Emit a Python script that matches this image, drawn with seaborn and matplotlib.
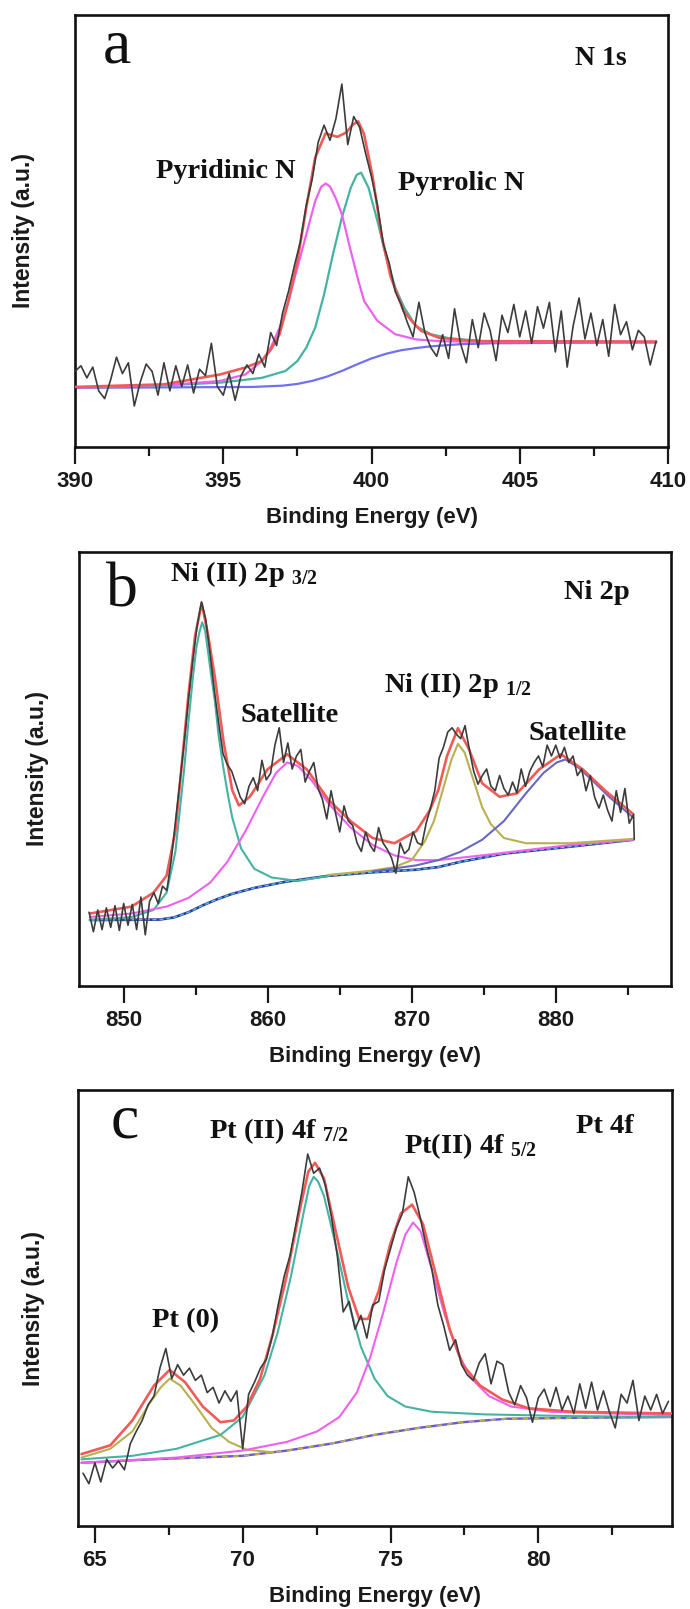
import numpy as np
import matplotlib
matplotlib.use("Agg")
import matplotlib.pyplot as plt
import seaborn as sns
from matplotlib.ticker import MultipleLocator

# ---------------- Panel a : N 1s ----------------
n1s_start, n1s_step = 390.0, 0.2
n1s_counts = [17.5, 18.8, 16.0, 18.5, 13.0, 11.2, 15.5, 20.8, 17.0, 19.5,
              9.5, 15.0, 19.2, 17.5, 12.0, 19.5, 13.0, 18.8, 14.0, 19.0,
              12.5, 18.0, 16.5, 24.0, 14.0, 12.0, 17.0, 10.8, 16.5, 19.0,
              17.0, 21.5, 18.5, 26.5, 23.5, 31.0, 36.0, 42.0, 47.5, 56.0,
              62.0, 70.5, 74.5, 71.0, 76.0, 84.0, 70.0, 76.5, 74.0, 68.0,
              62.5, 56.0, 47.0, 42.5, 36.0, 33.0, 29.0, 25.5, 33.5, 26.5,
              23.0, 21.0, 26.0, 20.5, 32.0, 24.0, 19.5, 29.5, 23.0, 31.0,
              27.0, 20.0, 30.5, 26.5, 33.0, 25.5, 31.5, 24.0, 32.5, 27.5,
              33.5, 22.0, 31.5, 18.5, 28.0, 34.5, 25.0, 31.0, 23.5, 29.5,
              21.0, 33.0, 26.0, 29.0, 22.5, 27.0, 25.5, 19.0, 24.5]

n1s_bg_energy = [390, 396, 397, 397.5, 398, 398.5, 399, 399.5, 400, 400.5, 401,
                 401.5, 402, 403, 404, 406, 409.6]
n1s_bg = [13.7, 13.9, 14.2, 14.6, 15.3, 16.3, 17.6, 19.1, 20.5, 21.6, 22.4,
          22.9, 23.3, 23.8, 24.0, 24.1, 24.2]

n1s_pyridinic_energy = [390, 393.4, 394.9, 395.75, 396.3, 396.6, 396.9, 397.2, 397.5,
                        397.8, 398.1, 398.3, 398.45, 398.6, 398.8, 399.0, 399.3,
                        399.53, 399.75, 400.2, 400.8, 401.5, 402.3, 404, 409.6]
n1s_pyridinic = [13.7, 14.5, 15.3, 16.8, 19.9, 23.0, 27.6, 33.8, 41.5, 49.2, 56.9,
                 60.2, 61.0, 60.3, 57.5, 53.9, 45.4, 39.2, 33.8, 29.2, 26.1, 24.9,
                 24.5, 24.3, 24.2]

n1s_pyrrolic_energy = [390, 393.4, 394.9, 396.3, 397.1, 397.5, 397.8, 398.1, 398.4,
                       398.7, 399.0, 399.3, 399.5, 399.65, 399.9, 400.2, 400.5,
                       400.8, 401.1, 401.5, 402.0, 402.6, 403.7, 409.6]
n1s_pyrrolic = [13.7, 14.4, 14.9, 16.0, 17.6, 19.9, 23.0, 27.6, 35.3, 44.6, 53.1,
                60.0, 63.0, 63.5, 60.0, 52.3, 43.8, 36.9, 32.3, 28.0, 26.1, 25.2,
                24.5, 24.3]

n1s_envelope_energy = [390, 393, 394.9, 395.75, 396.3, 396.6, 396.9, 397.2, 397.5,
                       397.8, 398.1, 398.45, 398.85, 399.15, 399.35, 399.55, 399.75,
                       400.04, 400.34, 400.64, 401.08, 401.4, 401.67, 402.27, 403,
                       403.75, 409.6]
n1s_envelope = [13.9, 14.5, 16.8, 18.4, 19.9, 22.5, 26.1, 33.8, 43.0, 55.4, 67.0,
                72.6, 71.8, 72.8, 74.5, 75.4, 72.4, 62.5, 49.0, 39.5, 31.5, 28.8,
                26.9, 25.3, 24.8, 24.5, 24.4]

# ---------------- Panel b : Ni 2p ----------------
ni_start, ni_step, ni_end_energy = 847.6, 0.3, 885.45
ni_counts = [17.0, 12.5, 17.5, 13.0, 18.0, 13.5, 18.5, 12.8, 19.0, 14.0,
             18.8, 13.0, 20.5, 11.8, 19.5, 21.5, 19.0, 23.0, 22.0, 29.0,
             38.0, 47.0, 56.0, 66.0, 75.0, 83.0, 88.5, 84.5, 76.5, 68.0,
             60.5, 53.5, 51.0, 49.5, 46.5, 43.5, 42.0, 46.0, 48.0, 45.0,
             52.0, 47.5, 49.0, 55.5, 59.5, 51.5, 56.0, 50.0, 53.0, 54.5,
             47.0, 49.5, 51.5, 45.5, 43.0, 38.5, 45.0, 40.0, 35.5, 41.5,
             38.0, 37.0, 33.0, 31.0, 35.5, 32.5, 31.0, 36.5, 33.0, 31.5,
             29.5, 26.0, 33.0, 30.5, 31.5, 35.5, 33.0, 32.5, 37.5, 41.0,
             45.0, 52.5, 55.0, 58.5, 59.5, 58.0, 57.0, 60.0, 54.5, 49.5,
             46.5, 48.5, 50.0, 46.0, 45.0, 48.5, 45.5, 44.0, 47.0, 44.5,
             50.0, 46.0, 49.5, 51.5, 53.0, 50.5, 55.5, 53.0, 55.5, 52.5,
             55.0, 51.5, 53.0, 48.5, 50.0, 45.0, 48.5, 43.5, 41.0, 44.0,
             40.5, 38.0, 45.0, 40.0, 45.5, 37.5, 39.5,
             33.8]

ni_bg_energy = [847.66, 852.5, 853.5, 854.5, 855.5, 856.5, 857.5, 859.07, 861.2,
                864.24, 867.28, 870.3, 871.84, 873.36, 876.4, 881.0, 885.38]
ni_bg = [15.2, 15.3, 15.8, 17.0, 18.6, 20.0, 21.2, 22.6, 24.0, 25.4, 26.2, 26.8,
         27.4, 28.6, 30.5, 32.1, 33.7]

ni_main_energy = [847.66, 850.55, 852.07, 852.98, 853.59, 853.9, 854.2, 854.5, 854.81,
                  855.05, 855.26, 855.45, 855.65, 855.87, 856.1, 856.33, 856.6,
                  856.94, 857.24, 857.54, 858.15, 859.07, 860.28, 862.1, 864.24]
ni_main = [15.2, 15.9, 17.5, 21.5, 30.9, 40.5, 49.9, 61.0, 71.2, 78.0, 81.5, 83.8,
           82.0, 76.7, 71.0, 65.7, 57.5, 49.9, 44.0, 38.8, 31.7, 27.0, 25.0, 24.2,
           25.4]

ni_sat1_energy = [847.66, 850.55, 852.98, 854.5, 856.0, 857.2, 858.46, 859.67, 860.58,
                  861.35, 862.1, 863.02, 864.24, 865.76, 867.28, 868.8, 870.32,
                  871.84, 874.89, 877.93, 881.0, 885.38]
ni_sat1 = [15.9, 16.7, 18.3, 20.3, 23.8, 28.6, 35.7, 43.6, 49.1, 51.5, 50.7, 47.5,
           42.0, 36.5, 32.5, 30.1, 29.0, 29.0, 30.1, 31.3, 32.5, 33.7]

ni_2p12_energy = [864.24, 867.28, 868.8, 870.0, 870.9, 871.54, 872.15, 872.76, 873.21,
                  873.67, 874.28, 874.89, 875.49, 876.4, 877.93, 881.0, 885.38]
ni_2p12 = [25.6, 26.6, 27.4, 29.0, 33.3, 38.0, 45.1, 52.2, 55.8, 53.8, 47.5, 41.2,
           37.3, 34.1, 32.9, 32.9, 33.9]

ni_sat2_energy = [867.28, 870.32, 871.84, 873.36, 874.89, 876.4, 877.93, 879.15,
                  880.06, 880.67, 881.58, 882.5, 883.7, 885.38]
ni_sat2 = [26.4, 27.8, 29.0, 30.9, 33.7, 38.0, 44.4, 49.1, 51.5, 52.2, 50.3, 47.5,
           43.6, 38.8]

ni_envelope_energy = [847.66, 850.55, 852.07, 852.98, 853.59, 854.05, 854.5, 854.96,
                      855.42, 855.87, 856.33, 856.94, 857.54, 858.0, 858.76, 859.98,
                      861.35, 862.72, 864.24, 865.76, 867.28, 868.8, 870.32, 871.24,
                      871.84, 872.45, 873.21, 873.97, 874.89, 876.1, 877.32, 878.84,
                      880.36, 881.88, 883.4, 885.38]
ni_envelope = [16.7, 18.3, 21.5, 25.4, 35.7, 51.5, 67.2, 80.7, 88.2, 80.7, 71.2,
               56.2, 45.1, 41.6, 43.6, 49.9, 53.4, 49.9, 42.8, 38.0, 34.1, 32.9,
               35.7, 40.4, 45.1, 53.0, 59.4, 54.6, 46.7, 43.6, 44.4, 49.9, 53.4,
               49.9, 45.1, 39.6]

# ---------------- Panel c : Pt 4f ----------------
pt_start, pt_step = 64.6, 0.2
pt_counts = [12.1, 9.7, 14.5, 10.1, 15.3, 13.3, 14.9, 12.9, 18.9, 21.7,
             24.2, 27.8, 29.8, 36.2, 40.7, 33.8, 37.0, 34.6, 36.2, 33.4,
             34.6, 30.6, 31.8, 28.2, 31.0, 28.6, 31.0, 17.7, 30.2, 33.0,
             36.2, 38.2, 43.5, 50.7, 57.2, 62.0, 69.2, 76.5, 85.3, 80.9,
             82.1, 78.1, 70.9, 62.0, 49.1, 51.5, 45.1, 48.3, 43.1, 50.7,
             51.5, 58.8, 63.6, 68.4, 71.7, 80.1, 76.5, 70.9, 64.4, 58.8,
             50.7, 45.9, 40.3, 42.7, 37.0, 34.6, 33.4, 37.4, 39.5, 32.6,
             37.8, 37.0, 30.6, 27.8, 32.2, 29.4, 23.8, 29.4, 31.4, 27.4,
             31.8, 26.6, 29.8, 25.8, 32.6, 27.0, 33.0, 26.6, 31.0, 26.2,
             22.5, 30.2, 28.2, 33.4, 24.2, 29.8, 26.6, 30.2, 25.8, 28.6]

pt_bg_energy = [64.55, 67.0, 70.0, 71.5, 73.0, 74.46, 75.95, 77.44, 78.93, 81.16, 84.5]
pt_bg = [14.5, 15.3, 16.1, 17.3, 18.9, 20.9, 22.5, 23.8, 24.6, 24.8, 25.0]

pt0_energy = [64.55, 65.52, 66.27, 66.86, 67.23, 67.53, 67.9, 68.35, 68.95, 69.54,
              70.14, 71.03]
pt0 = [15.7, 17.7, 21.7, 28.2, 31.8, 33.8, 32.2, 28.2, 22.5, 19.3, 17.5, 16.9]

pt72_energy = [64.55, 66.27, 67.76, 69.25, 70.0, 70.74, 71.18, 71.63, 72.08, 72.25,
               72.4, 72.55, 72.75, 73.12, 73.57, 74.0, 74.46, 74.9, 75.5, 76.4,
               78.18, 81.16, 84.5]
pt72 = [15.3, 16.1, 17.7, 20.9, 25.0, 34.6, 44.3, 57.2, 72.5, 78.0, 80.1, 79.0,
        75.7, 65.2, 51.5, 41.1, 33.8, 29.8, 27.4, 26.2, 25.6, 25.2, 25.0]

pt52_energy = [64.55, 67.76, 70.0, 71.5, 72.52, 73.27, 73.86, 74.31, 74.76, 75.2,
               75.5, 75.76, 76.02, 76.4, 76.84, 77.29, 77.74, 78.33, 79.08, 80.42, 84.5]
pt52 = [14.5, 15.7, 17.3, 19.3, 21.7, 25.0, 30.6, 38.6, 49.1, 60.4, 66.8, 69.6,
        67.6, 58.8, 48.3, 39.5, 33.8, 29.8, 27.4, 26.2, 25.4]

pt_envelope_energy = [64.55, 65.52, 66.27, 67.0, 67.53, 68.05, 68.65, 69.25, 69.7,
                      70.14, 70.59, 71.03, 71.48, 71.93, 72.22, 72.45, 72.75, 73.12,
                      73.57, 73.94, 74.24, 74.6, 74.98, 75.35, 75.73, 76.1, 76.55,
                      77.0, 77.44, 78.03, 78.78, 79.67, 81.16, 84.5]
pt_envelope = [16.5, 18.5, 24.2, 32.2, 35.8, 33.0, 27.4, 23.8, 24.2, 27.4, 33.8,
               44.3, 57.2, 72.5, 81.3, 83.3, 79.7, 68.4, 54.8, 47.5, 47.5, 53.9,
               64.4, 71.7, 73.7, 69.2, 57.2, 45.1, 37.0, 32.2, 29.0, 27.0, 26.2, 25.8]

# ---------------- styling ----------------
sns.set_theme(style="ticks")
plt.rcParams["font.family"] = ["Liberation Sans", "DejaVu Sans"]
plt.rcParams["font.weight"] = "bold"
plt.rcParams["mathtext.fontset"] = "custom"
plt.rcParams["mathtext.rm"] = "Liberation Serif:bold"
plt.rcParams["mathtext.it"] = "Liberation Serif:bold"
plt.rcParams["mathtext.bf"] = "Liberation Serif:bold"

RAW = "#3c3c3c"
RED = "#f25a55"
TEAL = "#45b3a3"
MAG = "#f060f0"
BLUE = "#7070f2"
OLIVE = "#b9b052"
SLATE = "#6868c2"
NAVY = "#2c3a9e"
CYAN = "#58c0dc"
PURPLE = "#6a58d0"

SERIF = ["Liberation Serif", "DejaVu Serif"]
W, H = 690, 1609

fig = plt.figure(figsize=(W / 100, H / 100), dpi=100)


def add_ax(left, right, top, bottom):
    return fig.add_axes([left / W, 1 - bottom / H, (right - left) / W, (bottom - top) / H])


def line(ax, x, y, color, lw, z, ls="-"):
    sns.lineplot(x=np.asarray(x, float), y=np.asarray(y, float), ax=ax, color=color,
                 linewidth=lw, estimator=None, sort=False, zorder=z, linestyle=ls,
                 legend=False)


def style(ax, xlim, major, minor, ylab_x):
    ax.set_xlim(*xlim)
    ax.set_ylim(0, 100)
    ax.xaxis.set_major_locator(MultipleLocator(major))
    ax.xaxis.set_minor_locator(MultipleLocator(minor))
    ax.set_yticks([])
    for s in ax.spines.values():
        s.set_visible(True)
        s.set_linewidth(1.9)
        s.set_color("#111111")
    ax.tick_params(axis="x", which="major", direction="out", length=12, width=1.6,
                   pad=5, labelsize=16, colors="#1a1a1a", bottom=True, top=False)
    ax.tick_params(axis="x", which="minor", direction="out", length=6.5, width=1.6,
                   colors="#1a1a1a", bottom=True, top=False)
    ax.set_xlabel("Binding Energy (eV)", fontsize=16, fontweight="bold", labelpad=11,
                  color="#1a1a1a")
    ax.set_ylabel("Intensity (a.u.)", fontsize=16.5, fontweight="bold", color="#1a1a1a")
    ax.yaxis.set_label_coords(ylab_x, 0.5)
    ax.set_facecolor("white")


def note(ax, x, y, s, size=20.5, weight="bold"):
    ax.text(x, y, s, fontsize=size, fontfamily=SERIF, fontweight=weight,
            ha="left", va="baseline", color="#111111", zorder=6)


# ----- panel a -----
ax = add_ax(75, 668, 15, 447)
n1s_energy = n1s_start + n1s_step * np.arange(len(n1s_counts))
line(ax, n1s_bg_energy, n1s_bg, BLUE, 1.6, 2)
line(ax, n1s_pyrrolic_energy, n1s_pyrrolic, TEAL, 1.6, 2)
line(ax, n1s_pyridinic_energy, n1s_pyridinic, MAG, 1.6, 2)
line(ax, n1s_envelope_energy, n1s_envelope, RED, 1.9, 3)
line(ax, n1s_energy, n1s_counts, RAW, 1.2, 4)
style(ax, (390, 410), 5, 2.5, -0.067)
note(ax, 390.94, 89.1, "a", size=46, weight="normal")
note(ax, 406.86, 88.4, "N 1s", size=20)
note(ax, 392.73, 62.3, "Pyridinic N")
note(ax, 400.89, 59.5, "Pyrrolic N")

# ----- panel b -----
ax = add_ax(79, 671, 552, 986)
ni_energy = np.r_[ni_start + ni_step * np.arange(len(ni_counts) - 1), ni_end_energy]
line(ax, ni_bg_energy, ni_bg, NAVY, 1.9, 2)
line(ax, ni_bg_energy, ni_bg, CYAN, 1.0, 2, ls=(0, (3, 2)))
line(ax, ni_main_energy, ni_main, TEAL, 1.5, 2)
line(ax, ni_sat1_energy, ni_sat1, MAG, 1.5, 2)
line(ax, ni_2p12_energy, ni_2p12, OLIVE, 1.5, 2)
line(ax, ni_sat2_energy, ni_sat2, SLATE, 1.5, 2)
line(ax, ni_envelope_energy, ni_envelope, RED, 1.9, 3)
line(ax, ni_energy, ni_counts, RAW, 1.2, 4)
style(ax, (846.9, 888.0), 10, 5, -0.051)
note(ax, 848.75, 87.4, "b", size=46, weight="normal")
note(ax, 853.2, 93.3, "Ni (II) 2p $_{3/2}$")
note(ax, 880.56, 89.2, "Ni 2p")
note(ax, 858.1, 60.8, "Satellite")
note(ax, 868.1, 67.7, "Ni (II) 2p $_{1/2}$")
note(ax, 878.1, 56.7, "Satellite")

# ----- panel c -----
ax = add_ax(78, 672, 1090, 1526)
pt_energy = pt_start + pt_step * np.arange(len(pt_counts))
line(ax, pt_bg_energy, pt_bg, PURPLE, 1.7, 2)
line(ax, pt_bg_energy, pt_bg, OLIVE, 1.3, 2, ls=(0, (3, 3)))
line(ax, pt0_energy, pt0, OLIVE, 1.5, 2)
line(ax, pt72_energy, pt72, TEAL, 1.5, 2)
line(ax, pt52_energy, pt52, MAG, 1.5, 2)
line(ax, pt_envelope_energy, pt_envelope, RED, 1.9, 3)
line(ax, pt_energy, pt_counts, RAW, 1.2, 4)
style(ax, (64.43, 84.52), 5, 2.5, -0.056)
note(ax, 65.54, 89.0, "c", size=46, weight="normal")
note(ax, 68.86, 89.0, "Pt (II) 4f $_{7/2}$")
note(ax, 75.44, 85.6, "Pt(II) 4f $_{5/2}$")
note(ax, 81.27, 90.1, "Pt 4f")
note(ax, 66.93, 45.6, "Pt (0)")

fig.savefig("out.png", dpi=100, facecolor="white")
